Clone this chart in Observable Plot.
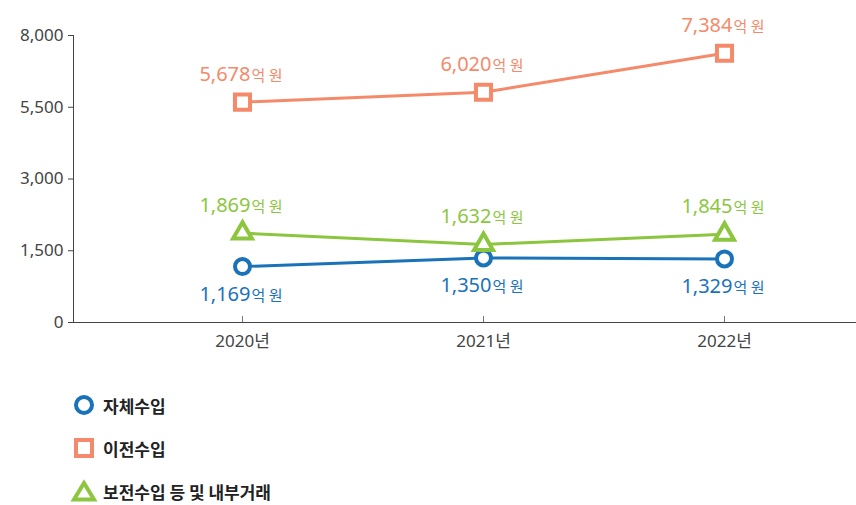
<!DOCTYPE html>
<html><head><meta charset="utf-8">
<script src="https://cdn.jsdelivr.net/npm/d3@7"></script>
<script src="https://cdn.jsdelivr.net/npm/@observablehq/plot@0.6"></script>
<style>
body{margin:0;background:#fff;font-family:"Noto Sans","Noto Sans CJK KR",sans-serif;}
#legend{margin-top:33px;padding-left:73px;display:flex;flex-direction:column;gap:19px;}
.item{display:flex;align-items:center;height:24px;font-family:"Noto Sans CJK KR",sans-serif;font-weight:700;font-size:17px;color:#222;}
.item svg{margin-right:8px;}
</style></head><body><div id="chart"></div><div id="legend"></div>
<script>
const years = ["2020", "2021", "2022"];
const series = ["자체수입", "이전수입", "보전수입 등 및 내부거래"];
const selfRevenue = [1169, 1350, 1329];
const transferRevenue = [5678, 6020, 7384];
const reserveRevenue = [1869, 1632, 1845];
const yTicks = [0, 1500, 3000, 5500, 8000];
const colors = ["#1a72b9", "#f58a6b", "#8cc63f"];
const symbols = ["circle", "square", "triangle"];
const labelAbove = [false, true, true];
const markerR = [7.5, 8.5, 7];

const values = [selfRevenue, transferRevenue, reserveRevenue];
const rows = [];
series.forEach((s, i) => years.forEach((y, j) => rows.push({series: s, idx: i, year: y, value: values[i][j]})));

// The axis is piecewise: its ticks are evenly spaced. Map values onto tick-step units.
const piece = d3.scaleLinear().domain(yTicks).range(yTicks.map((_, i) => i));
const yv = d => piece(d.value);

const fmt = d3.format(",");
const fontNum = "'Noto Sans','Noto Sans CJK KR',sans-serif";

const marks = [
  Plot.ruleX(years, {x: d => d, stroke: "#777", strokeWidth: 1, insetTop: 281}),
  Plot.line(rows, {x: "year", y: yv, z: "series", stroke: "series", strokeWidth: 3})
];
series.forEach((s, i) => {
  const data = rows.filter(d => d.idx === i);
  marks.push(Plot.dot(data, {x: "year", y: yv, symbol: "series", stroke: "series", fill: "white", strokeWidth: 4, r: markerR[i]}));
  const dy = labelAbove[i] ? -21 : 34;
  marks.push(Plot.text(data, {x: "year", y: yv, text: d => fmt(d.value), fill: colors[i], fontSize: 20, fontFamily: fontNum, textAnchor: "end", lineAnchor: "bottom", dx: 8, dy}));
  marks.push(Plot.text(data, {x: "year", y: yv, text: () => "억 원", fill: colors[i], fontSize: 15, fontFamily: "'Noto Sans CJK KR',sans-serif", textAnchor: "start", lineAnchor: "bottom", dx: 9, dy}));
});

const chart = Plot.plot({
  width: 856,
  height: 360,
  marginLeft: 73,
  marginRight: 0,
  marginTop: 35,
  marginBottom: 38,
  style: {fontFamily: fontNum, fontSize: "17px", color: "#444", background: "white"},
  x: {type: "point", domain: years, range: [241, 724], padding: 0, tickSize: 0, tickPadding: 12, tickFormat: d => d + "년", label: null, line: true},
  y: {type: "linear", domain: [0, yTicks.length - 1], ticks: yTicks.map((_, i) => i), tickFormat: i => fmt(yTicks[i]), tickSize: 5, tickPadding: 5, label: null, line: true},
  color: {domain: series, range: colors},
  symbol: {domain: series, range: symbols},
  marks
});
document.getElementById("chart").appendChild(chart);

const legend = document.getElementById("legend");
const shapes = [
  '<circle cx="11" cy="11" r="8" fill="white" stroke="' + colors[0] + '" stroke-width="4"/>',
  '<rect x="3" y="3" width="16" height="16" fill="white" stroke="' + colors[1] + '" stroke-width="4"/>',
  '<path d="M11,3 L21,19.5 L1,19.5 Z" fill="white" stroke="' + colors[2] + '" stroke-width="4" stroke-linejoin="miter"/>'
];
series.forEach((s, i) => {
  const div = document.createElement("div");
  div.className = "item";
  div.innerHTML = '<svg width="22" height="22" viewBox="0 0 22 22" overflow="visible">' + shapes[i] + '</svg><span>' + s + '</span>';
  legend.appendChild(div);
});
</script></body></html>
